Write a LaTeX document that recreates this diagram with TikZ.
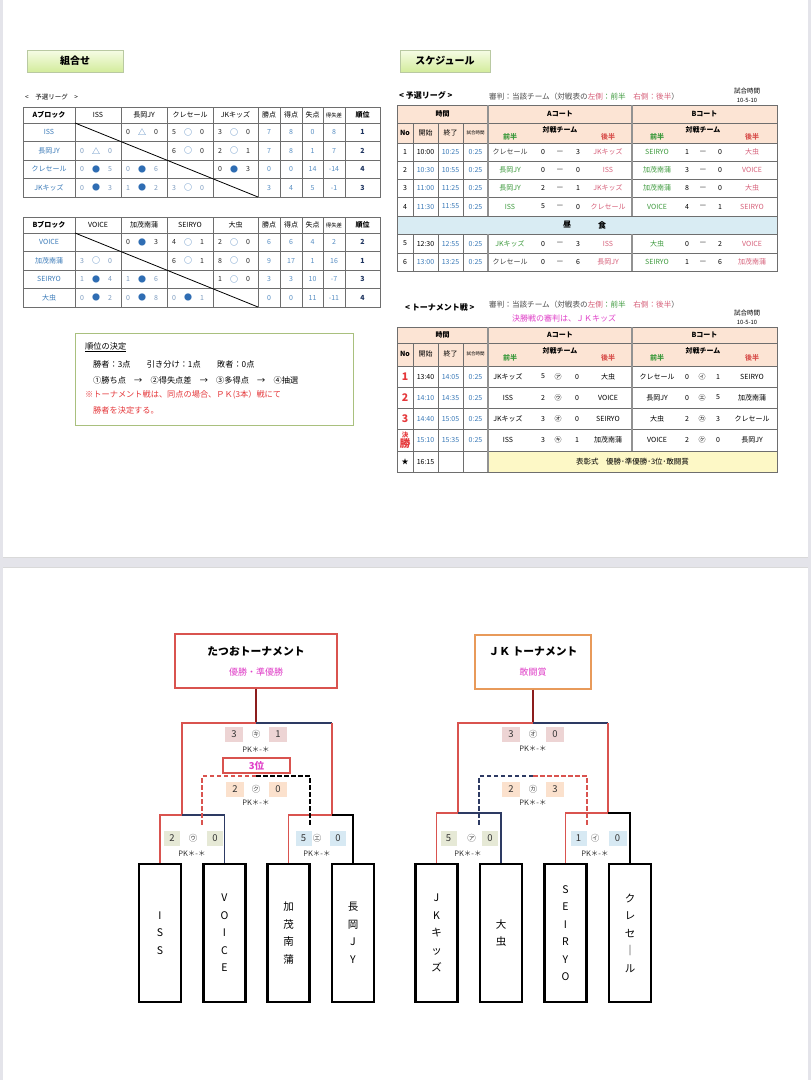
\documentclass[tikz,border=0pt]{standalone}
\usepackage{fontspec}
\setmainfont{Noto Sans CJK JP}
\usetikzlibrary{positioning, calc, shadows}
\definecolor{colorPage}{HTML}{E4E4EA}
\definecolor{colorTeam}{HTML}{3A7AB8}
\definecolor{colorLight}{HTML}{7D9CC0}
\definecolor{colorMark}{HTML}{2F6DB3}
\definecolor{colorRank}{HTML}{1F3560}
\definecolor{colorFirst}{HTML}{3D9A3D}
\definecolor{colorSecond}{HTML}{D65F79}
\definecolor{colorRed}{HTML}{E5383B}
\definecolor{colorMagenta}{HTML}{E040C8}
\definecolor{colorPeach}{HTML}{FCE4D4}
\definecolor{colorLunch}{HTML}{D9ECF3}
\definecolor{colorAward}{HTML}{FDF8C6}
\definecolor{colorGrid}{HTML}{6E6E6E}
\definecolor{colorBtnTop}{HTML}{F6FCE6}
\definecolor{colorBtnBot}{HTML}{D3EC9C}
\definecolor{colorBtnEdge}{HTML}{B9C9A2}
\definecolor{colorRule}{HTML}{A9C07E}
\definecolor{colorWin}{HTML}{D9534F}
\definecolor{colorLose}{HTML}{2D3A63}
\definecolor{colorStem}{HTML}{8C1D1D}
\definecolor{colorOrange}{HTML}{E89A5A}
\definecolor{colorScFinal}{HTML}{EDD4D4}
\definecolor{colorScThird}{HTML}{FBE1CD}
\definecolor{colorScLeft}{HTML}{E6E9D6}
\definecolor{colorScRight}{HTML}{D7E9F3}
\newcommand{\fsz}[1]{\fontsize{#1}{#1}\selectfont}
\tikzset{
  txt/.style={inner sep=0pt, font=\fsz{7}},
  bold/.style={inner sep=0pt, font=\fsz{7}\bfseries},
  gridline/.style={draw=colorGrid, line width=0.5pt},
  courtline/.style={draw=colorGrid!75, line width=1.8pt},
  button/.style={draw=colorBtnEdge, top color=colorBtnTop, bottom color=colorBtnBot, minimum height=22, font=\fsz{10}\bfseries, drop shadow={shadow xshift=1.2pt, shadow yshift=-1.2pt, opacity=0.25}},
  leaf/.style={draw, line width=2.4pt, minimum width=42, minimum height=138, align=center, inner sep=0pt, font=\fontsize{10.5}{17.5}\selectfont},
  titlebox/.style={draw, line width=1.1pt, fill=white, minimum height=54, align=center, inner sep=0pt},
  score/.style={minimum width=18, minimum height=15, inner sep=0pt, font=\fsz{9.5}, text=black!80},
  sym/.style={inner sep=0pt, font=\fsz{8.5}, text=black!70},
  pk/.style={inner sep=0pt, font=\fsz{7.5}, text=black!80},
  rule/.style={inner sep=0pt, anchor=west, font=\fsz{8.2}},
  win/.style={draw=colorWin, line width=1.8pt},
  lose/.style={draw=colorLose, line width=1.8pt},
  plain/.style={draw=black, line width=1.8pt},
  stem/.style={draw=colorStem, line width=2.6pt},
  thirdline/.style={dash pattern=on 4.5pt off 2.5pt},
}
\begin{document}
\begin{tikzpicture}[x=1pt, y=-1pt]
\useasboundingbox (0,0) rectangle (811,1080);
\fill[colorPage] (0,0) rectangle (811,1080);
\fill[white] (3,0) rectangle (808,557);
\fill[white] (3,567) rectangle (808,1080);
\draw[black!15] (3,557) -- (808,557) (3,567) -- (808,567);

% headers
\node[button, minimum width=96] (combo) at (75,61) {組合せ};
\node[button, minimum width=90] (sched) at (445,61) {スケジュール};

% league tables
\node[txt, anchor=west, font=\fsz{6.5}] (capL) at (25,97) {<　予選リーグ　>};
\foreach \ty/\blk/\ta/\tb/\tc/\td in {107/A/ISS/長岡JY/クレセール/JKキッズ, 217/B/VOICE/加茂南蒲/SEIRYO/大虫}{
  \draw[gridline] (23,\ty) rectangle (380,\ty+90);
  \foreach \x in {75,121,167,213,258,280,302,323,345} \draw[gridline] (\x,\ty) -- (\x,\ty+90);
  \foreach \k in {0,...,3} \draw[gridline] (23,\ty+16+18.5*\k) -- (380,\ty+16+18.5*\k);
  \draw[line width=0.8pt] (75,\ty+16) -- (258,\ty+90);
  \node[bold] (h\blk0) at (49,\ty+8) {\blk ブロック};
  \node[txt] (h\blk1) at (98,\ty+8) {\ta};
  \node[txt] (h\blk2) at (144,\ty+8) {\tb};
  \node[txt] (h\blk3) at (190,\ty+8) {\tc};
  \node[txt] (h\blk4) at (235.5,\ty+8) {\td};
  \node[txt] (h\blk5) at (269,\ty+8) {勝点};
  \node[txt] (h\blk6) at (291,\ty+8) {得点};
  \node[txt] (h\blk7) at (312.5,\ty+8) {失点};
  \node[txt, font=\fsz{5.4}] (h\blk8) at (334,\ty+8) {得失差};
  \node[bold] (h\blk9) at (362.5,\ty+8) {順位};
}
\foreach \ty/\blk/\i/\team/\pts/\gf/\ga/\gd/\rk in {
  107/A/1/ISS/7/8/0/8/1, 107/A/2/長岡JY/7/8/1/7/2, 107/A/3/クレセール/0/0/14/-14/4, 107/A/4/JKキッズ/3/4/5/-1/3,
  217/B/1/VOICE/6/6/4/2/2, 217/B/2/加茂南蒲/9/17/1/16/1, 217/B/3/SEIRYO/3/3/10/-7/3, 217/B/4/大虫/0/0/11/-11/4}{
  \node[txt, text=colorTeam] (team\blk\i) at (49,\ty+6.75+18.5*\i) {\team};
  \node[txt, text=colorTeam!85] (pts\blk\i) at (269,\ty+6.75+18.5*\i) {\pts};
  \node[txt, text=colorTeam!85] (gf\blk\i) at (291,\ty+6.75+18.5*\i) {\gf};
  \node[txt, text=colorTeam!85] (ga\blk\i) at (312.5,\ty+6.75+18.5*\i) {\ga};
  \node[txt, text=colorTeam!85] (gd\blk\i) at (334,\ty+6.75+18.5*\i) {\gd};
  \node[bold, text=colorRank] (rk\blk\i) at (362.5,\ty+6.75+18.5*\i) {\rk};
}
\foreach \ty/\blk/\i/\j/\a/\s/\b in {
  107/A/1/2/0/△/0, 107/A/1/3/5/○/0, 107/A/1/4/3/○/0, 107/A/2/1/0/△/0, 107/A/2/3/6/○/0, 107/A/2/4/2/○/1,
  107/A/3/1/0/●/5, 107/A/3/2/0/●/6, 107/A/3/4/0/●/3, 107/A/4/1/0/●/3, 107/A/4/2/1/●/2, 107/A/4/3/3/○/0,
  217/B/1/2/0/●/3, 217/B/1/3/4/○/1, 217/B/1/4/2/○/0, 217/B/2/1/3/○/0, 217/B/2/3/6/○/1, 217/B/2/4/8/○/0,
  217/B/3/1/1/●/4, 217/B/3/2/1/●/6, 217/B/3/4/1/○/0, 217/B/4/1/0/●/2, 217/B/4/2/0/●/8, 217/B/4/3/0/●/1}{
  \ifnum\j>\i\relax\def\cc{black!85}\else\def\cc{colorLight}\fi
  \node[txt, text=\cc] (m\blk\i\j a) at (36+46*\j,\ty+6.75+18.5*\i) {\a};
  \node[txt, text=colorMark, font=\fsz{8}] (m\blk\i\j s) at (50+46*\j,\ty+6.75+18.5*\i) {\s};
  \node[txt, text=\cc] (m\blk\i\j b) at (64+46*\j,\ty+6.75+18.5*\i) {\b};
}

% ranking rules
\node[draw=colorRule, line width=1pt, minimum width=278, minimum height=92, anchor=north west] (rulebox) at (75,333) {};
\node[rule] (rule1) at (85,347) {\underline{順位の決定}};
\node[rule] (rule2) at (93,364) {勝者：3点　　引き分け：1点　　敗者：0点};
\node[rule] (rule3) at (93,380) {①勝ち点　→　②得失点差　→　③多得点　→　④抽選};
\node[rule, text=colorRed] (rule4) at (85,395) {※トーナメント戦は、同点の場合、ＰＫ(3本）戦にて};
\node[rule, text=colorRed] (rule5) at (93,410) {勝者を決定する。};

% schedule tables
\fill[colorPeach] (397,105) rectangle (777,143);
\fill[colorLunch] (397,216) rectangle (777,234);
\fill[colorPeach] (397,327) rectangle (777,366);
\fill[colorAward] (488,451) rectangle (777,472);
\node[bold, anchor=west, font=\fsz{8}\bfseries] (capS) at (399,95) {< 予選リーグ >};
\node[txt, anchor=west, text=black!70, font=\fsz{7.6}] (refS) at (489,97) {審判：当該チーム（対戦表の\textcolor{colorSecond}{左側}\textcolor{colorFirst}{：前半}　\textcolor{colorSecond}{右側：後半}）};
\node[txt, font=\fsz{6.5}] (timeS) at (747,91) {試合時間};
\node[txt, font=\fsz{5.8}] (timeSv) at (747,100) {10-5-10};
\draw[gridline] (397,105) rectangle (777,271);
\foreach \y in {123,143,161,179,197,216,234,253} \draw[gridline] (397,\y) -- (777,\y);
\foreach \x in {413,438,463} \draw[gridline] (\x,123) -- (\x,216) (\x,234) -- (\x,271);
\foreach \x in {488,632} \draw[courtline] (\x,105) -- (\x,216) (\x,234) -- (\x,271);
\foreach \hy/\tag in {114/S, 335/T}{
  \node[bold] (\tag time) at (442.5,\hy) {時間};
  \node[bold] (\tag courtA) at (560,\hy) {Aコート};
  \node[bold] (\tag courtB) at (704.5,\hy) {Bコート};
  \node[bold] (\tag no) at (405,\hy+19) {No};
  \node[txt] (\tag start) at (425.5,\hy+19) {開始};
  \node[txt] (\tag end) at (450.5,\hy+19) {終了};
  \node[txt, font=\fsz{4.5}] (\tag len) at (475.5,\hy+19) {試合時間};
  \node[bold, text=colorFirst] (\tag fA) at (510,\hy+23) {前半};
  \node[bold] (\tag vA) at (560,\hy+16) {対戦チーム};
  \node[bold, text=colorWin] (\tag sA) at (608,\hy+23) {後半};
  \node[bold, text=colorFirst] (\tag fB) at (657,\hy+23) {前半};
  \node[bold] (\tag vB) at (703,\hy+16) {対戦チーム};
  \node[bold, text=colorWin] (\tag sB) at (752,\hy+23) {後半};
}
\foreach \y/\no/\st/\stc/\en/\fac/\aa/\sa/\sb/\ab/\ba/\sd/\se/\bb in {
  152/1/10:00/black/10:25/black!75/クレセール/0/3/JKキッズ/SEIRYO/1/0/大虫,
  170/2/10:30/colorTeam/10:55/colorFirst/長岡JY/0/0/ISS/加茂南蒲/3/0/VOICE,
  188/3/11:00/colorTeam/11:25/colorFirst/長岡JY/2/1/JKキッズ/加茂南蒲/8/0/大虫,
  206.5/4/11:30/colorTeam/11:55/colorFirst/ISS/5/0/クレセール/VOICE/4/1/SEIRYO,
  243.5/5/12:30/black/12:55/colorFirst/JKキッズ/0/3/ISS/大虫/0/2/VOICE,
  262/6/13:00/colorTeam/13:25/black!75/クレセール/0/6/長岡JY/SEIRYO/1/6/加茂南蒲}{
  \node[txt] (sNo\no) at (405,\y) {\no};
  \node[txt, text=\stc] (sSt\no) at (425.5,\y) {\st};
  \node[txt, text=colorTeam] (sEn\no) at (450.5,\y) {\en};
  \node[txt, text=colorTeam] (sLen\no) at (475.5,\y) {0:25};
  \node[txt, text=\fac] (sAa\no) at (510,\y) {\aa};
  \node[txt] (sAs\no) at (543,\y) {\sa};
  \node[txt] (sAd\no) at (560,\y) {—};
  \node[txt] (sAt\no) at (578,\y) {\sb};
  \node[txt, text=colorSecond] (sAb\no) at (608,\y) {\ab};
  \node[txt, text=colorFirst] (sBa\no) at (657,\y) {\ba};
  \node[txt] (sBs\no) at (687,\y) {\sd};
  \node[txt] (sBd\no) at (703,\y) {—};
  \node[txt] (sBt\no) at (720,\y) {\se};
  \node[txt, text=colorSecond] (sBb\no) at (752,\y) {\bb};
}
\node[bold, font=\fsz{8}\bfseries] (lunch1) at (567,225) {昼};
\node[bold, font=\fsz{8}\bfseries] (lunch2) at (602,225) {食};

% tournament schedule
\node[bold, anchor=west, font=\fsz{8}\bfseries] (capT) at (405,307) {< トーナメント戦 >};
\node[txt, anchor=west, text=black!70, font=\fsz{7.6}] (refT) at (489,305) {審判：当該チーム（対戦表の\textcolor{colorSecond}{左側}\textcolor{colorFirst}{：前半}　\textcolor{colorSecond}{右側：後半}）};
\node[txt, anchor=west, text=colorMagenta, font=\fsz{8}] (refF) at (512,318) {決勝戦の審判は、ＪＫキッズ};
\node[txt, font=\fsz{6.5}] (timeT) at (747,313) {試合時間};
\node[txt, font=\fsz{5.8}] (timeTv) at (747,322) {10-5-10};
\draw[gridline] (397,327) rectangle (777,472);
\foreach \y in {343,366,387,408,429,451} \draw[gridline] (397,\y) -- (777,\y);
\foreach \x in {413,438,463} \draw[gridline] (\x,343) -- (\x,472);
\draw[courtline] (488,327) -- (488,472);
\draw[courtline] (632,327) -- (632,451);
\foreach \y/\no/\st/\stc/\en/\aa/\sa/\ma/\sb/\ab/\ba/\sd/\mb/\se/\bb in {
  376.5/1/13:40/black/14:05/JKキッズ/5/㋐/0/大虫/クレセール/0/㋑/1/SEIRYO,
  397.5/2/14:10/colorTeam/14:35/ISS/2/㋒/0/VOICE/長岡JY/0/㋓/5/加茂南蒲,
  418.5/3/14:40/colorTeam/15:05/JKキッズ/3/㋔/0/SEIRYO/大虫/2/㋕/3/クレセール,
  440/{\fsz{6.5}決\\[-0.5pt]勝}/15:10/colorTeam/15:35/ISS/3/㋖/1/加茂南蒲/VOICE/2/㋗/0/長岡JY}{
  \node[inner sep=0pt, align=center, text=colorRed, font=\fsz{10.5}\bfseries] (tNo\st) at (405,\y) {\no};
  \node[txt, text=\stc] (tSt\st) at (425.5,\y) {\st};
  \node[txt, text=colorTeam] (tEn\st) at (450.5,\y) {\en};
  \node[txt, text=colorTeam] (tLen\st) at (475.5,\y) {0:25};
  \node[txt] (tAa\st) at (508,\y) {\aa};
  \node[txt] (tAs\st) at (543,\y) {\sa};
  \node[txt, font=\fsz{7}] (tAm\st) at (558,\y) {\ma};
  \node[txt] (tAt\st) at (577,\y) {\sb};
  \node[txt] (tAb\st) at (608,\y) {\ab};
  \node[txt] (tBa\st) at (657,\y) {\ba};
  \node[txt] (tBs\st) at (687,\y) {\sd};
  \node[txt, font=\fsz{7}] (tBm\st) at (702,\y) {\mb};
  \node[txt] (tBt\st) at (718,\y) {\se};
  \node[txt] (tBb\st) at (752,\y) {\bb};
}
\node[txt] (star) at (405,461.5) {★};
\node[txt] (starSt) at (425.5,461.5) {16:15};
\node[txt, font=\fsz{7.5}] (award) at (632.5,461.5) {表彰式　優勝･準優勝･3位･敢闘賞};

% tatsuo tournament
\node[titlebox, draw=colorWin, minimum width=162] (tatsuo) at (256,661) {{\fsz{10.8}\bfseries たつおトーナメント}\\[8pt]{\fsz{9}\color{colorMagenta}優勝・準優勝}};
\node[leaf] (iss) at (160,933) {I\\S\\S};
\node[leaf] (voice) at (224.5,933) {V\\O\\I\\C\\E};
\node[leaf] (kamo) at (288.5,933) {加\\茂\\南\\蒲};
\node[leaf] (nagaoka) at (353,933) {長\\岡\\J\\Y};
\coordinate (tA0) at (256,723);
\coordinate (tA0r) at (332,723);
\coordinate (tA1) at (182,815);
\coordinate (tA2) at (332,815);
\coordinate (tA3) at (256,776);
\coordinate (tA3l) at (202,827);
\coordinate (tA3r) at (310,825);
\draw[stem] (tatsuo.south) -- (tA0);
\draw[win] (tA0) -| (tA1);
\draw[lose] (tA0) -- (tA0r);
\draw[win] (tA0r) -- (tA2);
\draw[win] (iss.north) |- (tA1);
\draw[lose] (tA1) -| (voice.north);
\draw[win] (kamo.north) |- (tA2);
\draw[plain] (tA2) -| (nagaoka.north);
\draw[win, thirdline] (tA3) -| (tA3l);
\draw[plain, thirdline] (tA3) -| (tA3r);
\node[score, fill=colorScFinal] (fA1) at (234,734) {3};
\node[sym] (fAm) at (256,734) {㋖};
\node[score, fill=colorScFinal] (fA2) at (278,734) {1};
\node[pk] (fApk) at (256,750) {PK＊-＊};
\node[draw=colorWin, line width=1.1pt, fill=white, minimum width=67, minimum height=15, inner sep=0pt, font=\fsz{9.5}\bfseries, text=colorMagenta] (thirdA) at (256.5,765.5) {3位};
\node[score, fill=colorScThird] (dA1) at (235,789) {2};
\node[sym] (dAm) at (256,789) {㋗};
\node[score, fill=colorScThird] (dA2) at (278,789) {0};
\node[pk] (dApk) at (256,803) {PK＊-＊};
\node[score, fill=colorScLeft, minimum width=16] (sA1) at (172,838.5) {2};
\node[sym] (sAm) at (193,838.5) {㋒};
\node[score, fill=colorScLeft, minimum width=16] (sA2) at (215,838.5) {0};
\node[pk] (sApk) at (192,854) {PK＊-＊};
\node[score, fill=colorScRight, minimum width=16] (sA3) at (303.5,838.5) {5};
\node[sym] (sAm2) at (317,838.5) {㋓};
\node[score, fill=colorScRight, minimum width=16] (sA4) at (338,838.5) {0};
\node[pk] (sApk2) at (317,854) {PK＊-＊};

% JK tournament
\node[titlebox, draw=colorOrange, minimum width=116] (jkt) at (533,662) {{\fsz{10.8}\bfseries ＪＫ トーナメント}\\[8pt]{\fsz{9}\color{colorMagenta}敢闘賞}};
\node[leaf] (jk) at (436.5,933) {J\\K\\キ\\ッ\\ズ};
\node[leaf] (ochu) at (501,933) {大\\虫};
\node[leaf] (seiryo) at (565.5,933) {S\\E\\I\\R\\Y\\O};
\node[leaf] (cresc) at (630,933) {ク\\レ\\セ\\｜\\ル};
\coordinate (tB0) at (533,723);
\coordinate (tB0r) at (608,723);
\coordinate (tB1) at (458,813);
\coordinate (tB2) at (608,813);
\coordinate (tB3) at (533,776);
\coordinate (tB3l) at (479,825);
\coordinate (tB3r) at (587,825);
\draw[stem] (jkt.south) -- (tB0);
\draw[win] (tB0) -| (tB1);
\draw[lose] (tB0) -- (tB0r);
\draw[win] (tB0r) -- (tB2);
\draw[win] (jk.north) |- (tB1);
\draw[lose] (tB1) -| (ochu.north);
\draw[win] (seiryo.north) |- (tB2);
\draw[plain] (tB2) -| (cresc.north);
\draw[lose, thirdline] (tB3) -| (tB3l);
\draw[win, thirdline] (tB3) -| (tB3r);
\node[score, fill=colorScFinal] (fB1) at (511,734) {3};
\node[sym] (fBm) at (533,734) {㋔};
\node[score, fill=colorScFinal] (fB2) at (555,734) {0};
\node[pk] (fBpk) at (533,749) {PK＊-＊};
\node[score, fill=colorScThird] (dB1) at (511,789) {2};
\node[sym] (dBm) at (533,789) {㋕};
\node[score, fill=colorScThird] (dB2) at (555,789) {3};
\node[pk] (dBpk) at (533,803) {PK＊-＊};
\node[score, fill=colorScLeft, minimum width=16] (sB1) at (448.5,838.5) {5};
\node[sym] (sBm) at (471.5,838.5) {㋐};
\node[score, fill=colorScLeft, minimum width=16] (sB2) at (490,838.5) {0};
\node[pk] (sBpk) at (468,854) {PK＊-＊};
\node[score, fill=colorScRight, minimum width=16] (sB3) at (578.5,838.5) {1};
\node[sym] (sBm2) at (595,838.5) {㋑};
\node[score, fill=colorScRight, minimum width=18] (sB4) at (617.5,838.5) {0};
\node[pk] (sBpk2) at (595,854) {PK＊-＊};
\end{tikzpicture}
\end{document}
